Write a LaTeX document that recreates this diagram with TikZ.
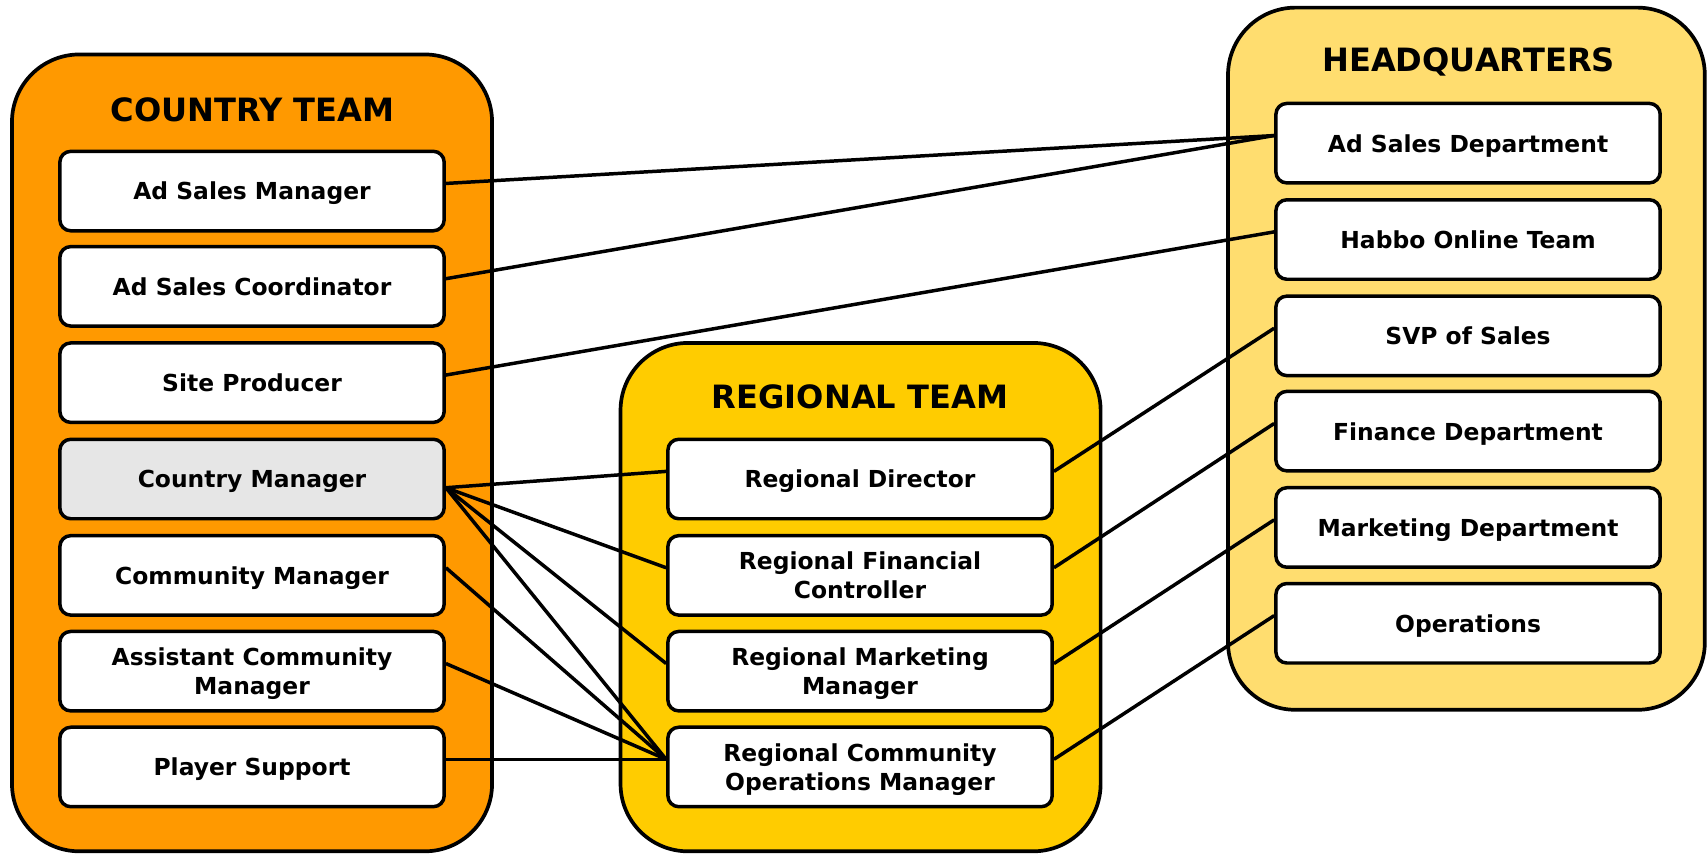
\documentclass[tikz,border=0pt]{standalone}
\usepackage{fontspec}
\setmainfont{DejaVu Sans}
\definecolor{countryfill}{RGB}{255,153,0}
\definecolor{regionfill}{RGB}{255,204,0}
\definecolor{hqfill}{RGB}{255,221,111}
\definecolor{managerfill}{RGB}{230,230,230}
\begin{document}
\begin{tikzpicture}[x=1pt,y=-1pt,
  team/.style={draw=black, line width=3.4pt, rounded corners=62pt},
  unit/.style={draw=black, line width=3.2pt, fill=white, rounded corners=10pt,
    minimum width=353pt, minimum height=73pt, align=center, inner sep=0pt,
    text depth=0pt, font=\fontsize{21.5}{27}\selectfont\bfseries},
  head/.style={inner sep=0pt, text depth=0pt, font=\fontsize{29.5}{33}\selectfont\bfseries},
  link/.style={line width=3.2pt}]
\useasboundingbox (0,0) rectangle (1568,784.4);

% team containers
\draw[team, fill=countryfill] (11,50) rectangle (452,782);
\draw[team, fill=regionfill] (570,315) rectangle (1011,782);
\draw[team, fill=hqfill] (1128,7) rectangle (1566,652);

\node[head] (tcountry) at (232,100.5) {COUNTRY TEAM};
\node[head] (tregion) at (790,364) {REGIONAL TEAM};
\node[head] (thq) at (1349,55) {HEADQUARTERS};

% country team
\node[unit] (asm) at (231.5,175.5) {Ad Sales Manager};
\node[unit] (asc) at (231.5,263) {Ad Sales Coordinator};
\node[unit] (sp) at (231.5,351.5) {Site Producer};
\node[unit, fill=managerfill] (cm) at (231.5,440) {Country Manager};
\node[unit] (com) at (231.5,528.5) {Community Manager};
\node[unit] (acm) at (231.5,616.5) {Assistant Community\\Manager};
\node[unit] (ps) at (231.5,704.5) {Player Support};

% regional team
\node[unit] (rd) at (790,440) {Regional Director};
\node[unit] (rfc) at (790,528.5) {Regional Financial\\Controller};
\node[unit] (rmm) at (790,616.5) {Regional Marketing\\Manager};
\node[unit] (rcom) at (790,704.5) {Regional Community\\Operations Manager};

% headquarters
\node[unit] (asd) at (1348.5,131.5) {Ad Sales Department};
\node[unit] (hot) at (1348.5,220) {Habbo Online Team};
\node[unit] (svp) at (1348.5,308.5) {SVP of Sales};
\node[unit] (fin) at (1348.5,396) {Finance Department};
\node[unit] (mkt) at (1348.5,484.5) {Marketing Department};
\node[unit] (ops) at (1348.5,572.5) {Operations};

% reporting lines
\begin{scope}[link]
\draw ([yshift=7pt]asm.east) -- ([yshift=7pt]asd.west);
\draw ([yshift=7pt]asc.east) -- ([yshift=7pt]asd.west);
\draw ([yshift=7pt]sp.east) -- ([yshift=7pt]hot.west);
\draw ([yshift=-8pt]cm.east) -- ([yshift=7pt]rd.west);
\draw ([yshift=-8pt]cm.east) -- ([yshift=7pt]rfc.west);
\draw ([yshift=-8pt]cm.east) -- ([yshift=7pt]rmm.west);
\draw ([yshift=-8pt]cm.east) -- ([yshift=7pt]rcom.west);
\draw ([yshift=7pt]com.east) -- ([yshift=7pt]rcom.west);
\draw ([yshift=7pt]acm.east) -- ([yshift=7pt]rcom.west);
\draw ([yshift=7pt]ps.east) -- ([yshift=7pt]rcom.west);
\draw ([yshift=7pt]rd.east) -- ([yshift=7pt]svp.west);
\draw ([yshift=7pt]rfc.east) -- ([yshift=7pt]fin.west);
\draw ([yshift=7pt]rmm.east) -- ([yshift=7pt]mkt.west);
\draw ([yshift=7pt]rcom.east) -- ([yshift=7pt]ops.west);
\end{scope}
\end{tikzpicture}
\end{document}
